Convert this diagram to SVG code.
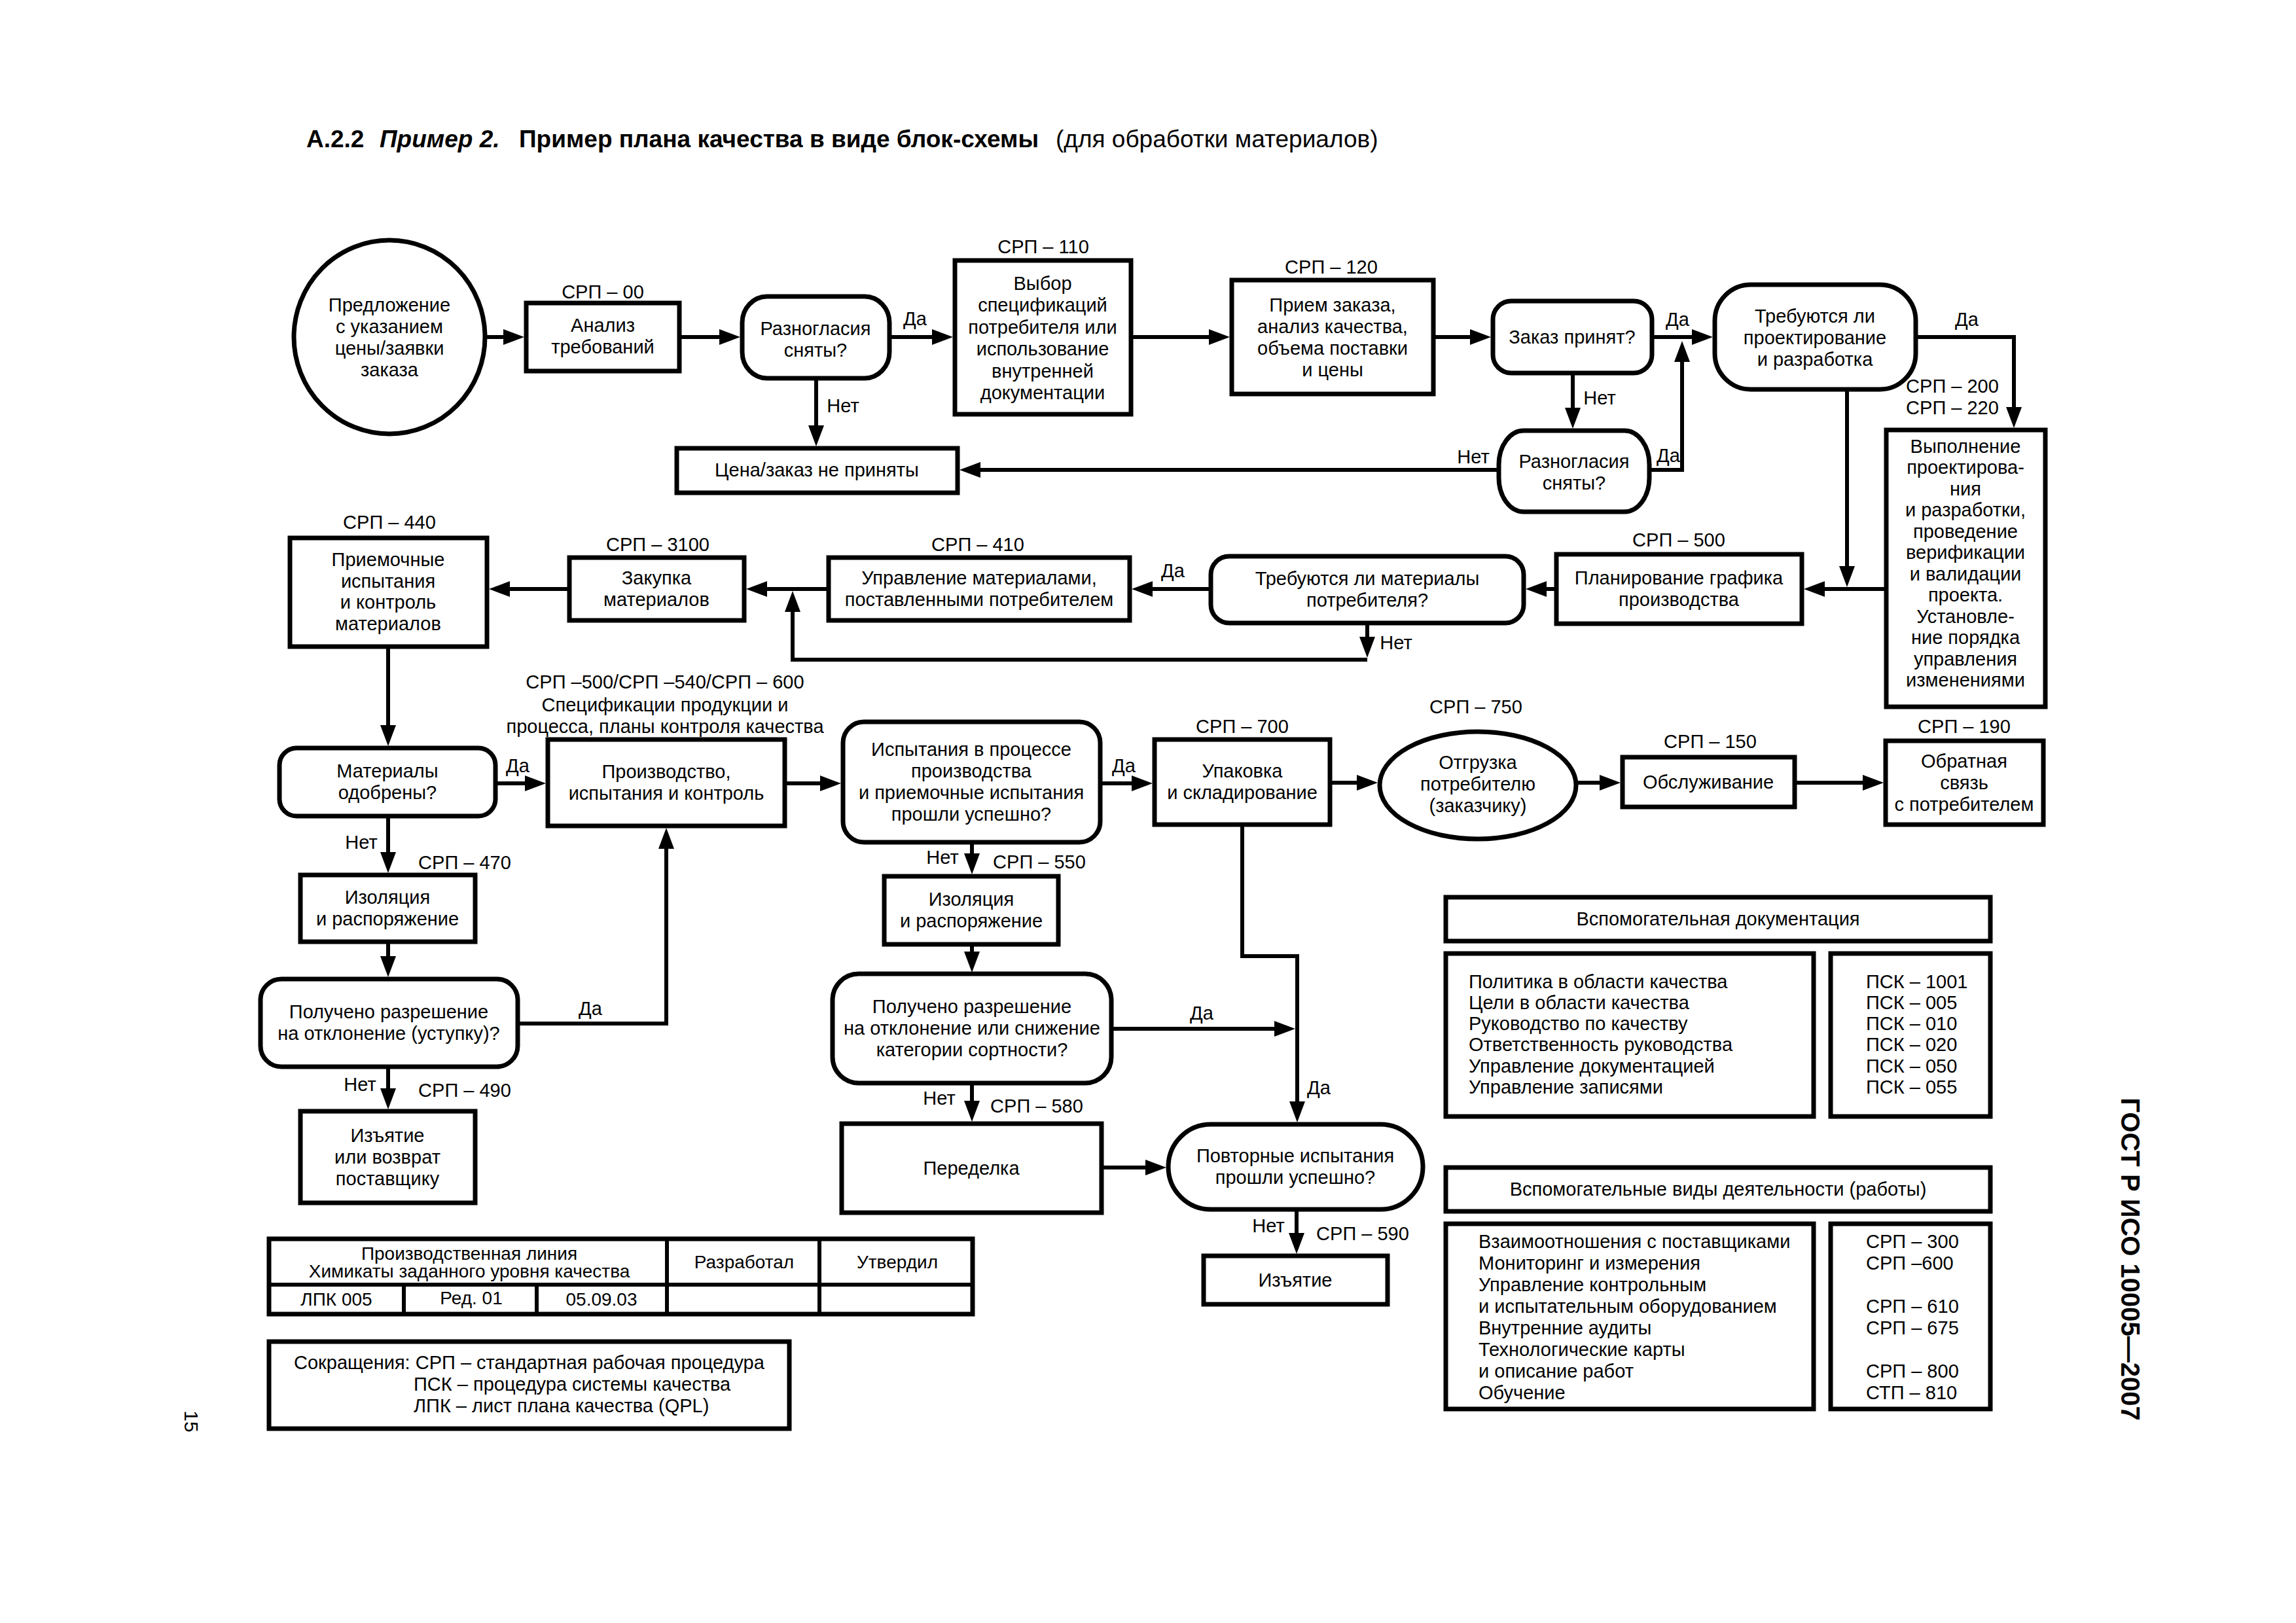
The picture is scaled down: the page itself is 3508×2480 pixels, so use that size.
<svg xmlns="http://www.w3.org/2000/svg" width="3508" height="2480" viewBox="0 0 3508 2480">
<defs>
<style>
text{font-family:'Liberation Sans',Arial,sans-serif;font-size:29px;fill:#000}
.m{text-anchor:middle}
.b{fill:#fff;stroke:#000;stroke-width:7}
.c{fill:none;stroke:#000;stroke-width:6;marker-end:url(#ah)}
.tl{fill:none;stroke:#000;stroke-width:6}
</style>
<marker id="ah" markerUnits="userSpaceOnUse" markerWidth="32" markerHeight="24" viewBox="0 0 32 24" refX="10" refY="12" orient="auto"><path d="M0,0 L32,12 L0,24 z" fill="#000"/></marker>
</defs>
<rect width="3508" height="2480" fill="#fff"/>

<g id="title">
<text x="468" y="225" style="font-size:37px"><tspan font-weight="bold">А.2.2</tspan><tspan x="580" font-weight="bold" font-style="italic">Пример 2.</tspan><tspan x="793" font-weight="bold">Пример плана качества в виде блок-схемы</tspan><tspan x="1613">(для обработки материалов)</tspan></text>
</g>

<g id="connectors">
<path class="c" d="M741,515 H779"/>
<path class="c" d="M1038,515 H1109"/>
<path class="c" d="M1359,515 H1434"/>
<path class="c" d="M1728,515 H1857"/>
<path class="c" d="M2190,515 H2256"/>
<path class="c" d="M2524,515 H2595"/>
<path class="c" d="M2403,570 V633"/>
<path class="c" d="M2520,718 H2570 V543"/>
<path class="c" d="M2290,718 H1488"/>
<path class="c" d="M1247,578 V660"/>
<path class="c" d="M2927,515 H3077 V632"/>
<path class="c" d="M2822,595 V875"/>
<path class="c" d="M2882,900 H2778"/>
<path class="c" d="M2378,900 H2353"/>
<path class="c" d="M1850,900 H1751"/>
<path class="c" d="M2089,952 V983"/>
<path class="c" d="M2089,1008 H1211 V925"/>
<path class="c" d="M1266,900 H1162"/>
<path class="c" d="M870,900 H769"/>
<path class="c" d="M593,988 V1118"/>
<path class="c" d="M757,1197 H812"/>
<path class="c" d="M1199,1197 H1263"/>
<path class="c" d="M1681,1197 H1739"/>
<path class="c" d="M2032,1196 H2083"/>
<path class="c" d="M2408,1196 H2454"/>
<path class="c" d="M2742,1196 H2856"/>
<path class="c" d="M593,1247 V1312"/>
<path class="c" d="M593,1439 V1471"/>
<path class="c" d="M791,1564 H1018 V1287"/>
<path class="c" d="M593,1630 V1673"/>
<path class="c" d="M1485,1287 V1314"/>
<path class="c" d="M1485,1443 V1464"/>
<path class="c" d="M1698,1572 H1957"/>
<path class="c" d="M1898,1260 V1461 H1982 V1693"/>
<path class="c" d="M1485,1655 V1692"/>
<path class="c" d="M1683,1784 H1760"/>
<path class="c" d="M1981,1848 V1894"/>
<text class="m" x="1398" y="497">Да</text>
<text class="m" x="2563" y="498">Да</text>
<text class="m" x="2444" y="618">Нет</text>
<text class="m" x="2549" y="706">Да</text>
<text class="m" x="2251" y="708">Нет</text>
<text class="m" x="1288" y="630">Нет</text>
<text class="m" x="3005" y="498">Да</text>
<text class="m" x="1792" y="882">Да</text>
<text class="m" x="2133" y="992">Нет</text>
<text class="m" x="791" y="1180">Да</text>
<text class="m" x="1717" y="1180">Да</text>
<text class="m" x="552" y="1297">Нет</text>
<text class="m" x="902" y="1551">Да</text>
<text class="m" x="550" y="1667">Нет</text>
<text class="m" x="1440" y="1320">Нет</text>
<text class="m" x="1836" y="1558">Да</text>
<text class="m" x="2015" y="1672">Да</text>
<text class="m" x="1435" y="1688">Нет</text>
<text class="m" x="1938" y="1883">Нет</text>
</g>

<g id="n-proposal">
<ellipse class="b" cx="595" cy="515" rx="146" ry="148"/>
<text class="m" x="595" y="476">Предложение</text>
<text class="m" x="595" y="509">с указанием</text>
<text class="m" x="595" y="542">цены/заявки</text>
<text class="m" x="595" y="575">заказа</text>
</g>

<g id="n-analysis">
<text class="m" x="921" y="456">СРП – 00</text>
<rect class="b" x="804" y="463" width="234" height="104"/>
<text class="m" x="921" y="507">Анализ</text>
<text class="m" x="921" y="540">требований</text>
</g>

<g id="n-disagree1">
<rect class="b" x="1134" y="453" width="225" height="125" rx="38" ry="40"/>
<text class="m" x="1246" y="512">Разногласия</text>
<text class="m" x="1246" y="545">сняты?</text>
</g>

<g id="n-choice">
<text class="m" x="1594" y="387">СРП – 110</text>
<rect class="b" x="1459" y="398" width="269" height="235"/>
<text class="m" x="1593" y="443">Выбор</text>
<text class="m" x="1593" y="476">спецификаций</text>
<text class="m" x="1593" y="510">потребителя или</text>
<text class="m" x="1593" y="543">использование</text>
<text class="m" x="1593" y="577">внутренней</text>
<text class="m" x="1593" y="610">документации</text>
</g>

<g id="n-rejected">
<rect class="b" x="1034" y="685" width="429" height="68"/>
<text class="m" x="1248" y="728">Цена/заказ не приняты</text>
</g>

<g id="n-accept">
<text class="m" x="2034" y="418">СРП – 120</text>
<rect class="b" x="1882" y="428" width="308" height="174"/>
<text class="m" x="2036" y="476">Прием заказа,</text>
<text class="m" x="2036" y="509">анализ качества,</text>
<text class="m" x="2036" y="542">объема поставки</text>
<text class="m" x="2036" y="575">и цены</text>
</g>

<g id="n-order">
<rect class="b" x="2281" y="460" width="243" height="110" rx="28" ry="28"/>
<text class="m" x="2402" y="525">Заказ принят?</text>
</g>

<g id="n-disagree2">
<rect class="b" x="2290" y="658" width="230" height="124" rx="38" ry="52"/>
<text class="m" x="2405" y="715">Разногласия</text>
<text class="m" x="2405" y="748">сняты?</text>
</g>

<g id="n-design-q">
<rect class="b" x="2620" y="435" width="307" height="160" rx="55" ry="55"/>
<text class="m" x="2773" y="493">Требуются ли</text>
<text class="m" x="2773" y="526">проектирование</text>
<text class="m" x="2773" y="559">и разработка</text>
</g>

<g id="n-design">
<text class="m" x="2983" y="600">СРП – 200</text>
<text class="m" x="2983" y="633">СРП – 220</text>
<rect class="b" x="2882" y="657" width="243" height="423"/>
<text class="m" x="3003" y="692">Выполнение</text>
<text class="m" x="3003" y="724">проектирова-</text>
<text class="m" x="3003" y="757">ния</text>
<text class="m" x="3003" y="789">и разработки,</text>
<text class="m" x="3003" y="822">проведение</text>
<text class="m" x="3003" y="854">верификации</text>
<text class="m" x="3003" y="887">и валидации</text>
<text class="m" x="3003" y="919">проекта.</text>
<text class="m" x="3003" y="952">Установле-</text>
<text class="m" x="3003" y="984">ние порядка</text>
<text class="m" x="3003" y="1017">управления</text>
<text class="m" x="3003" y="1049">изменениями</text>
</g>

<g id="n-planning">
<text class="m" x="2565" y="835">СРП – 500</text>
<rect class="b" x="2378" y="847" width="375" height="106"/>
<text class="m" x="2565" y="893">Планирование графика</text>
<text class="m" x="2565" y="926">производства</text>
</g>

<g id="n-custmat-q">
<rect class="b" x="1850" y="850" width="478" height="102" rx="28" ry="28"/>
<text class="m" x="2089" y="894">Требуются ли материалы</text>
<text class="m" x="2089" y="927">потребителя?</text>
</g>

<g id="n-custmat">
<text class="m" x="1494" y="842">СРП – 410</text>
<rect class="b" x="1266" y="852" width="460" height="96"/>
<text class="m" x="1496" y="893">Управление материалами,</text>
<text class="m" x="1496" y="926">поставленными потребителем</text>
</g>

<g id="n-purchase">
<text class="m" x="1005" y="842">СРП – 3100</text>
<rect class="b" x="870" y="852" width="267" height="96"/>
<text class="m" x="1003" y="893">Закупка</text>
<text class="m" x="1003" y="926">материалов</text>
</g>

<g id="n-incoming">
<text class="m" x="595" y="808">СРП – 440</text>
<rect class="b" x="443" y="822" width="301" height="166"/>
<text class="m" x="593" y="865">Приемочные</text>
<text class="m" x="593" y="898">испытания</text>
<text class="m" x="593" y="930">и контроль</text>
<text class="m" x="593" y="963">материалов</text>
</g>

<g id="n-approved-q">
<rect class="b" x="427" y="1143" width="330" height="104" rx="26" ry="26"/>
<text class="m" x="592" y="1188">Материалы</text>
<text class="m" x="592" y="1221">одобрены?</text>
</g>

<g id="n-production">
<text class="m" x="1016" y="1052">СРП –500/СРП –540/СРП – 600</text>
<text class="m" x="1016" y="1087">Спецификации продукции и</text>
<text class="m" x="1016" y="1120">процесса, планы контроля качества</text>
<rect class="b" x="837" y="1130" width="362" height="132"/>
<text class="m" x="1018" y="1189">Производство,</text>
<text class="m" x="1018" y="1222">испытания и контроль</text>
</g>

<g id="n-tests-q">
<rect class="b" x="1288" y="1103" width="393" height="184" rx="32" ry="32"/>
<text class="m" x="1484" y="1155">Испытания в процессе</text>
<text class="m" x="1484" y="1188">производства</text>
<text class="m" x="1484" y="1221">и приемочные испытания</text>
<text class="m" x="1484" y="1254">прошли успешно?</text>
</g>

<g id="n-packing">
<text class="m" x="1898" y="1120">СРП – 700</text>
<rect class="b" x="1764" y="1130" width="268" height="130"/>
<text class="m" x="1898" y="1188">Упаковка</text>
<text class="m" x="1898" y="1221">и складирование</text>
</g>

<g id="n-shipping">
<text class="m" x="2255" y="1090">СРП – 750</text>
<ellipse class="b" cx="2258" cy="1200" rx="150" ry="82"/>
<text class="m" x="2258" y="1175">Отгрузка</text>
<text class="m" x="2258" y="1208">потребителю</text>
<text class="m" x="2258" y="1241">(заказчику)</text>
</g>

<g id="n-service">
<text class="m" x="2613" y="1143">СРП – 150</text>
<rect class="b" x="2479" y="1157" width="263" height="76"/>
<text class="m" x="2610" y="1205">Обслуживание</text>
</g>

<g id="n-feedback">
<text class="m" x="3001" y="1120">СРП – 190</text>
<rect class="b" x="2881" y="1132" width="241" height="128"/>
<text class="m" x="3001" y="1173">Обратная</text>
<text class="m" x="3001" y="1206">связь</text>
<text class="m" x="3001" y="1239">с потребителем</text>
</g>

<g id="n-isolation1">
<text class="m" x="710" y="1328">СРП – 470</text>
<rect class="b" x="459" y="1337" width="267" height="102"/>
<text class="m" x="592" y="1381">Изоляция</text>
<text class="m" x="592" y="1414">и распоряжение</text>
</g>

<g id="n-waiver1-q">
<rect class="b" x="398" y="1496" width="393" height="134" rx="32" ry="32"/>
<text class="m" x="594" y="1556">Получено разрешение</text>
<text class="m" x="594" y="1589">на отклонение (уступку)?</text>
</g>

<g id="n-return">
<text class="m" x="710" y="1676">СРП – 490</text>
<rect class="b" x="459" y="1698" width="267" height="140"/>
<text class="m" x="592" y="1745">Изъятие</text>
<text class="m" x="592" y="1778">или возврат</text>
<text class="m" x="592" y="1811">поставщику</text>
</g>

<g id="n-isolation2">
<text class="m" x="1588" y="1327">СРП – 550</text>
<rect class="b" x="1351" y="1339" width="266" height="104"/>
<text class="m" x="1484" y="1384">Изоляция</text>
<text class="m" x="1484" y="1417">и распоряжение</text>
</g>

<g id="n-waiver2-q">
<rect class="b" x="1272" y="1488" width="426" height="167" rx="40" ry="40"/>
<text class="m" x="1485" y="1548">Получено разрешение</text>
<text class="m" x="1485" y="1581">на отклонение или снижение</text>
<text class="m" x="1485" y="1614">категории сортности?</text>
</g>

<g id="n-rework">
<text class="m" x="1584" y="1700">СРП – 580</text>
<rect class="b" x="1286" y="1717" width="397" height="136"/>
<text class="m" x="1484" y="1795">Переделка</text>
</g>

<g id="n-retest-q">
<rect class="b" x="1785" y="1718" width="389" height="130" rx="65" ry="65"/>
<text class="m" x="1979" y="1776">Повторные испытания</text>
<text class="m" x="1979" y="1809">прошли успешно?</text>
</g>

<g id="n-scrap">
<text class="m" x="2082" y="1895">СРП – 590</text>
<rect class="b" x="1839" y="1919" width="281" height="74"/>
<text class="m" x="1979" y="1966">Изъятие</text>
</g>

<g id="docs">
<rect class="b" x="2209" y="1371" width="832" height="67"/>
<text class="m" x="2625" y="1414">Вспомогательная документация</text>
<rect class="b" x="2209" y="1457" width="562" height="249"/>
<rect class="b" x="2797" y="1457" width="244" height="249"/>
<text x="2244" y="1510">Политика в области качества</text>
<text x="2244" y="1542">Цели в области качества</text>
<text x="2244" y="1574">Руководство по качеству</text>
<text x="2244" y="1606">Ответственность руководства</text>
<text x="2244" y="1639">Управление документацией</text>
<text x="2244" y="1671">Управление записями</text>
<text x="2851" y="1510">ПСК – 1001</text>
<text x="2851" y="1542">ПСК – 005</text>
<text x="2851" y="1574">ПСК – 010</text>
<text x="2851" y="1606">ПСК – 020</text>
<text x="2851" y="1639">ПСК – 050</text>
<text x="2851" y="1671">ПСК – 055</text>
</g>

<g id="activities">
<rect class="b" x="2209" y="1784" width="832" height="67"/>
<text class="m" x="2625" y="1827">Вспомогательные виды деятельности (работы)</text>
<rect class="b" x="2209" y="1870" width="562" height="283"/>
<rect class="b" x="2797" y="1870" width="244" height="283"/>
<text x="2259" y="1907">Взаимоотношения с поставщиками</text>
<text x="2259" y="1940">Мониторинг и измерения</text>
<text x="2259" y="1973">Управление контрольным</text>
<text x="2259" y="2006">и испытательным оборудованием</text>
<text x="2259" y="2039">Внутренние аудиты</text>
<text x="2259" y="2072">Технологические карты</text>
<text x="2259" y="2105">и описание работ</text>
<text x="2259" y="2138">Обучение</text>
<text x="2851" y="1907">СРП – 300</text>
<text x="2851" y="1940">СРП –600</text>
<text x="2851" y="2006">СРП – 610</text>
<text x="2851" y="2039">СРП – 675</text>
<text x="2851" y="2105">СРП – 800</text>
<text x="2851" y="2138">СТП – 810</text>
</g>

<g id="table">
<rect class="b" x="411" y="1893" width="1075" height="115"/>
<path class="tl" d="M411,1963 H1486 M1019,1893 V2008 M1252,1893 V2008 M617,1963 V2008 M820,1963 V2008"/>
<text class="m" x="717" y="1925" style="font-size:28px">Производственная линия</text>
<text class="m" x="717" y="1952" style="font-size:28px">Химикаты заданного уровня качества</text>
<text class="m" x="1137" y="1938" style="font-size:28px">Разработал</text>
<text class="m" x="1371" y="1938" style="font-size:28px">Утвердил</text>
<text class="m" x="514" y="1995" style="font-size:28px">ЛПК 005</text>
<text class="m" x="720" y="1993" style="font-size:28px">Ред. 01</text>
<text class="m" x="919" y="1995" style="font-size:28px">05.09.03</text>
</g>

<g id="abbreviations">
<rect class="b" x="411" y="2050" width="795" height="133"/>
<text x="449" y="2092">Сокращения: СРП – стандартная рабочая процедура</text>
<text x="632" y="2125">ПСК – процедура системы качества</text>
<text x="632" y="2158">ЛПК – лист плана качества (QPL)</text>
</g>

<g id="page-marks">
<text class="m" transform="translate(3241,1924) rotate(90)" style="font-size:40px;font-weight:bold">ГОСТ Р ИСО 10005—2007</text>
<text class="m" transform="translate(282,2172) rotate(90)" style="font-size:30px">15</text>
</g>
</svg>
